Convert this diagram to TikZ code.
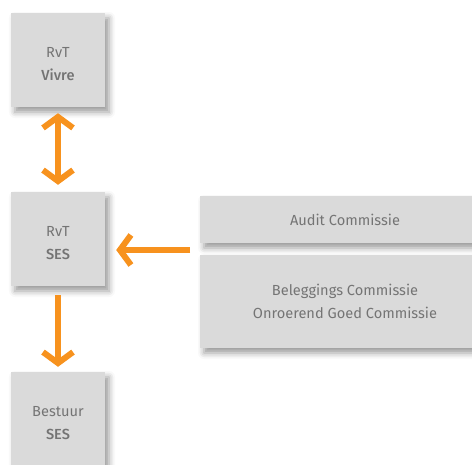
\documentclass[tikz,border=0pt]{standalone}
\usepackage{fontspec}
\setmainfont{Fira Sans}[BoldFont=* Medium]
\usetikzlibrary{arrows.meta,shadows.blur}

\definecolor{boxgray}{HTML}{DADADA}
\definecolor{txtgray}{HTML}{747474}
\definecolor{arroworange}{HTML}{F7921E}

\tikzset{
    orgbox/.style={fill=boxgray, text=txtgray, align=center, inner sep=0pt,
        blur shadow={shadow xshift=4pt, shadow yshift=-5pt, shadow blur radius=6pt, shadow opacity=40}},
    squarebox/.style={orgbox, minimum width=94pt, minimum height=94pt, text height=42pt},
    linkarrow/.style={draw=arroworange, line width=6pt, {Straight Barb[length=11pt,width=30pt]}-{Straight Barb[length=11pt,width=30pt]}},
    downarrow/.style={draw=arroworange, line width=6pt, -{Straight Barb[length=11pt,width=30pt]}}
}

\begin{document}
\begin{tikzpicture}[x=1pt, y=-1pt, every node/.style={font=\fontsize{14.6}{23}\selectfont}]
    \useasboundingbox (0,0) rectangle (472,464);

    % RvT boxes - left column
    \node[squarebox] (vivre) at (58,60) {RvT\\\textbf{Vivre}};
    \node[squarebox] (ses) at (58,239) {RvT\\\textbf{SES}};
    \node[squarebox] (bestuur) at (58,419) {Bestuur\\\textbf{SES}};

    % Commissies - right side
    \node[orgbox, minimum width=290pt, minimum height=47pt] (audit) at (345,219.5) {Audit Commissie};
    \node[orgbox, minimum width=290pt, minimum height=93pt] (beleg) at (345,301.5) {Beleggings Commissie\\Onroerend Goed Commissie};
    \coordinate (cin) at (190,250);

    % Arrows
    \draw[linkarrow, shorten <=6pt, shorten >=7pt] (vivre) -- (ses);
    \draw[downarrow, shorten >=11pt] (cin) -- (ses.east |- cin);
    \draw[downarrow, shorten <=9pt, shorten >=5pt] (ses) -- (bestuur);
\end{tikzpicture}
\end{document}
